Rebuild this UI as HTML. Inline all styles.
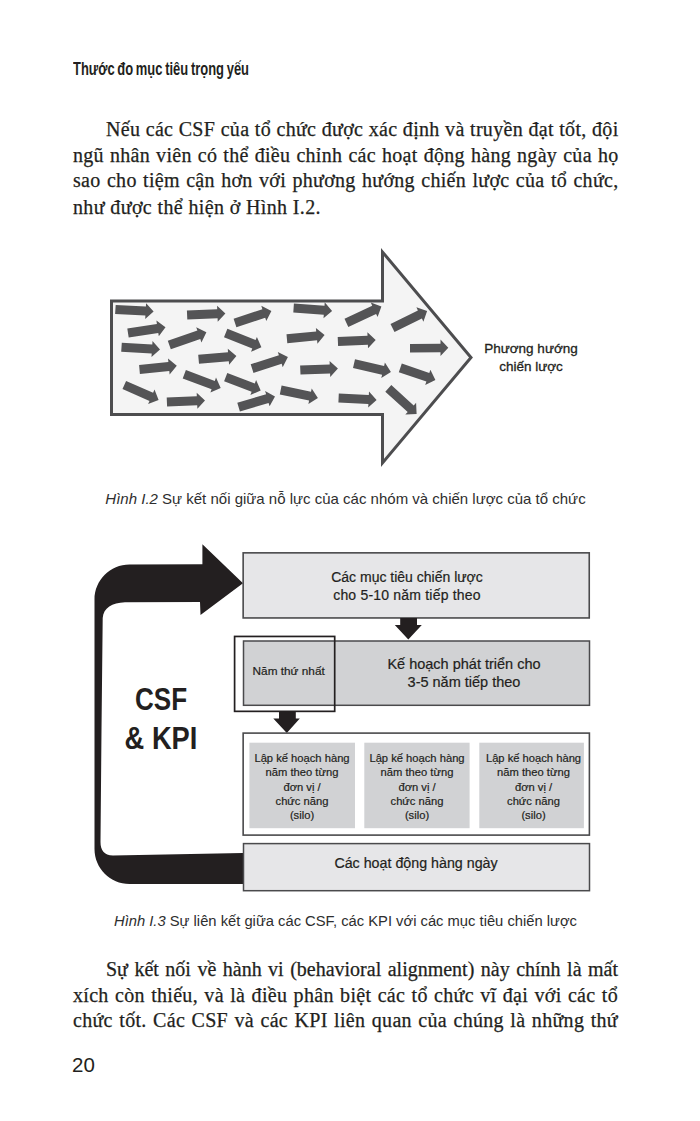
<!DOCTYPE html>
<html><head><meta charset="utf-8">
<style>
html,body{margin:0;padding:0;background:#fff;}
body{width:700px;height:1121px;position:relative;overflow:hidden;}
.a{position:absolute;white-space:nowrap;}
.serif{font-family:"Liberation Serif",serif;font-size:20px;color:#231f20;letter-spacing:0.3px;-webkit-text-stroke:0.25px #231f20;}
.j{text-align:justify;text-align-last:justify;}
.sans{font-family:"Liberation Sans",sans-serif;color:#231f20;}
.dg{-webkit-text-stroke:0.2px #231f20;}
.cap{color:#2e2e2e;}
svg{position:absolute;left:0;top:0;}
</style></head><body>
<svg width="700" height="1121" viewBox="0 0 700 1121">
<!-- big arrow -->
<polygon points="111.5,301 382.5,301 382.5,252 471,357.5 382.5,463 382.5,414.5 111.5,414.5" fill="#f4f4f4" stroke="#4d4d4f" stroke-width="3" stroke-linejoin="miter"/>
<g fill="#545456">
<polygon points="115.7,304.9 145.9,306.6 146.1,303.2 153.6,311.6 145.2,319.1 145.4,315.6 115.1,313.9"/>
<polygon points="127.3,328.6 156.9,324.0 156.4,320.5 165.5,327.2 158.8,336.3 158.3,332.9 128.7,337.4"/>
<polygon points="121.8,342.7 152.3,344.5 152.5,341.0 160.0,349.5 151.5,357.0 151.7,353.5 121.2,351.7"/>
<polygon points="167.8,340.7 197.4,330.6 196.2,327.3 206.4,332.3 201.4,342.5 200.3,339.1 170.8,349.3"/>
<polygon points="186.9,310.4 217.2,309.2 217.1,305.7 225.4,313.4 217.7,321.7 217.6,318.2 187.3,319.4"/>
<polygon points="139.1,365.0 168.4,362.1 168.0,358.6 176.8,365.8 169.6,374.6 169.3,371.1 139.9,374.0"/>
<polygon points="126.1,380.9 153.1,392.7 154.5,389.5 158.6,400.0 148.1,404.1 149.5,400.9 122.5,389.1"/>
<polygon points="166.7,397.6 196.8,396.3 196.7,392.8 205.0,400.4 197.4,408.7 197.2,405.3 167.1,406.6"/>
<polygon points="185.9,370.1 214.8,380.9 216.0,377.6 220.7,387.9 210.4,392.6 211.6,389.3 182.7,378.5"/>
<polygon points="233.6,318.7 262.4,309.2 261.3,305.8 271.4,310.9 266.3,321.0 265.2,317.7 236.4,327.3"/>
<polygon points="227.4,328.8 255.6,340.1 256.9,336.9 261.4,347.3 251.0,351.8 252.3,348.5 224.0,337.2"/>
<polygon points="198.2,354.8 228.0,352.3 227.8,348.8 236.4,356.1 229.1,364.7 228.8,361.3 199.0,363.8"/>
<polygon points="227.3,372.9 254.8,383.4 256.1,380.1 260.7,390.4 250.4,395.0 251.6,391.8 224.1,381.3"/>
<polygon points="237.3,402.8 266.1,394.3 265.1,391.0 275.0,396.4 269.6,406.3 268.6,403.0 239.9,411.4"/>
<polygon points="250.7,364.3 278.9,355.3 277.8,351.9 287.9,357.1 282.7,367.2 281.7,363.8 253.5,372.9"/>
<polygon points="293.9,303.5 324.5,305.8 324.7,302.3 332.1,310.9 323.5,318.3 323.8,314.8 293.3,312.5"/>
<polygon points="286.5,334.2 316.2,331.4 315.9,327.9 324.6,335.1 317.4,343.8 317.1,340.3 287.3,343.2"/>
<polygon points="337.7,336.9 367.5,335.8 367.4,332.3 375.7,340.0 368.0,348.3 367.9,344.8 338.1,345.9"/>
<polygon points="344.5,318.8 372.2,305.7 370.8,302.6 381.4,306.4 377.6,317.0 376.1,313.9 348.3,327.0"/>
<polygon points="300.1,365.5 329.7,364.4 329.6,360.9 337.9,368.6 330.2,376.9 330.1,373.4 300.5,374.5"/>
<polygon points="281.6,385.6 311.0,391.8 311.7,388.4 317.9,397.9 308.4,404.1 309.1,400.6 279.8,394.4"/>
<polygon points="338.8,393.4 368.8,395.0 369.0,391.5 376.6,399.9 368.2,407.5 368.4,404.0 338.4,402.4"/>
<polygon points="390.5,323.9 417.9,310.5 416.4,307.3 427.1,311.0 423.4,321.7 421.9,318.6 394.5,331.9"/>
<polygon points="410,343.9 440.5,343.7 440.5,339.6 448.3,347.8 440.5,356.1 440.5,352.3 410,352.5"/>
<polygon points="355.0,359.2 384.1,365.9 384.9,362.5 390.9,372.1 381.3,378.1 382.1,374.7 353.0,368.0"/>
<polygon points="401.8,363.6 429.3,373.1 430.4,369.7 435.4,379.9 425.2,384.9 426.4,381.6 398.8,372.2"/>
<polygon points="391.3,385.1 413.7,405.4 416.1,402.8 416.6,414.1 405.3,414.6 407.7,412.1 385.3,391.7"/>
</g>
<!-- diagram 2 -->
<path d="M243,583.2 L200.5,615 L200,602 L125,602.3 C112,602.8 103.5,608 102.7,618 L101.5,730 L100.5,842 C100.5,850 104,855.5 113,855.5 L243,853 L243,884 L129.5,884 C110.2,884 94.5,868.3 94.5,849 L94.5,599.5 C94.5,580.2 110.2,564.5 129.5,564.5 L202.4,564.3 L202.4,544.3 Z" fill="#231f20"/>
<rect x="243.15" y="552.85" width="346.1" height="65.1" fill="#e6e6e8" stroke="#4a4a4c" stroke-width="1.6"/>
<rect x="243.5" y="641" width="346" height="64.3" fill="#d1d2d4" stroke="#4a4a4c" stroke-width="1.5"/>
<rect x="234.6" y="636.45" width="100.1" height="74.9" fill="none" stroke="#231f20" stroke-width="1.7"/>
<!-- down arrow 1 -->
<polygon points="400.2,618 417,618 417,625 421.8,625 408.3,639.5 394.8,625 400.2,625" fill="#231f20"/>
<!-- down arrow 2 -->
<polygon points="279,712 295.8,712 295.8,718.4 299.8,718.4 286.8,733 273.3,718.4 279,718.4" fill="#231f20"/>
<rect x="243.15" y="733.1" width="346.25" height="102" fill="#fff" stroke="#4a4a4c" stroke-width="1.6"/>
<rect x="249.4" y="742.7" width="105.6" height="85.5" fill="#d1d2d4"/>
<rect x="364.3" y="742.7" width="105.3" height="85.5" fill="#d1d2d4"/>
<rect x="479.3" y="742.7" width="104.6" height="85.5" fill="#d1d2d4"/>
<rect x="243.5" y="843.6" width="346" height="47.1" fill="#e6e6e8" stroke="#4a4a4c" stroke-width="1.5"/>
</svg>

<div class="a sans" style="left:73px;top:58.7px;font-size:17.5px;font-weight:bold;transform-origin:0 0;transform:scaleX(0.74);word-spacing:-1.2px;">Thước đo mục tiêu trọng yếu</div>

<div class="a serif" style="left:106px;top:117.5px;width:512.5px;"><div class="j">Nếu các CSF của tổ chức được xác định và truyền đạt tốt, đội</div></div>
<div class="a serif" style="left:73px;top:143.5px;width:545.5px;"><div class="j">ngũ nhân viên có thể điều chỉnh các hoạt động hàng ngày của họ</div></div>
<div class="a serif" style="left:73px;top:169px;width:545.5px;"><div class="j">sao cho tiệm cận hơn với phương hướng chiến lược của tổ chức,</div></div>
<div class="a serif" style="left:73px;top:195.5px;letter-spacing:0.37px;">như được thể hiện ở Hình I.2.</div>

<div class="a sans dg" style="-webkit-text-stroke:0.3px #231f20;left:471px;top:340px;width:120px;text-align:center;font-size:13.5px;line-height:18px;">Phương hướng<br>chiến lược</div>

<div class="a sans cap" style="left:0;width:691px;text-align:center;top:489.7px;font-size:15px;line-height:18px;"><i>Hình I.2</i> Sự kết nối giữa nỗ lực của các nhóm và chiến lược của tổ chức</div>

<div class="a sans dg" style="left:307px;width:200px;top:568px;text-align:center;font-size:14px;line-height:18px;">Các mục tiêu chiến lược<br><span style="letter-spacing:0.2px">cho 5-10 năm tiếp theo</span></div>
<div class="a sans dg" style="left:364px;width:200px;top:655px;text-align:center;font-size:14.5px;line-height:18.2px;">Kế hoạch phát triển cho<br>3-5 năm tiếp theo</div>
<div class="a sans dg" style="left:238.7px;width:100px;top:664px;text-align:center;font-size:11.8px;line-height:14px;">Năm thứ nhất</div>

<div class="a sans dg" style="left:249px;width:106px;top:751px;text-align:center;font-size:11.2px;line-height:14.25px;">Lập kế hoạch hàng<br>năm theo từng<br>đơn vị /<br>chức năng<br>(silo)</div>
<div class="a sans dg" style="left:364px;width:106px;top:751px;text-align:center;font-size:11.2px;line-height:14.25px;">Lập kế hoạch hàng<br>năm theo từng<br>đơn vị /<br>chức năng<br>(silo)</div>
<div class="a sans dg" style="left:480.5px;width:106px;top:751px;text-align:center;font-size:11.2px;line-height:14.25px;">Lập kế hoạch hàng<br>năm theo từng<br>đơn vị /<br>chức năng<br>(silo)</div>

<div class="a sans dg" style="left:316px;width:200px;top:854px;text-align:center;font-size:14.25px;line-height:18px;">Các hoạt động hàng ngày</div>

<div class="a sans" style="left:100px;width:122px;top:679.6px;text-align:center;font-size:31px;font-weight:bold;line-height:39.3px;"><div style="transform:scaleX(0.84)">CSF</div><div style="transform:scaleX(0.88)">&amp; KPI</div></div>

<div class="a sans cap" style="left:0;width:691px;text-align:center;top:912.3px;font-size:14.75px;line-height:18px;"><i>Hình I.3</i> Sự liên kết giữa các CSF, các KPI với các mục tiêu chiến lược</div>

<div class="a serif" style="left:106px;top:957.5px;width:512px;letter-spacing:0;"><div class="j">Sự kết nối về hành vi (behavioral alignment) này chính là mất</div></div>
<div class="a serif" style="left:73px;top:983.5px;width:545px;"><div class="j">xích còn thiếu, và là điều phân biệt các tổ chức vĩ đại với các tổ</div></div>
<div class="a serif" style="left:73px;top:1008.5px;width:545px;"><div class="j">chức tốt. Các CSF và các KPI liên quan của chúng là những thứ</div></div>

<div class="a sans" style="left:72px;top:1053px;font-size:20.5px;">20</div>
</body></html>
